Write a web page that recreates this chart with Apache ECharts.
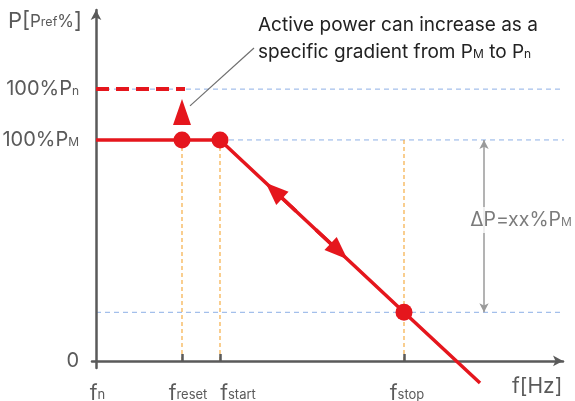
<!DOCTYPE html>
<html>
<head>
<meta charset="utf-8">
<script src="https://cdn.jsdelivr.net/npm/echarts@6/dist/echarts.min.js"></script>
<style>html,body{margin:0;padding:0;background:#fff}#c{width:575px;height:401px}</style>
</head>
<body>
<div id="c"></div>
<script>
// ---- data (schematic units) ----
const freqTicks = [0, 86, 124, 308];            // f_n, f_reset, f_start, f_stop
const freqSubs = ['n', 'reset', 'start', 'stop'];
const powerTicks = [0, 100, 123];               // 0, 100%P_M, 100%P_n
const curveF = [0, 124, 308, 384];
const curveP = [100, 100, 22, -10];
const dotF = [86, 124, 308];
const dotP = [100, 100, 22];
const pnDashF = [0, 89];
const pnDashP = [123, 123];
const upArrowF = [86];
const upArrowP = [112.7];
// direction arrows on the slope: from -> to (arrow drawn at "to", pointing along from->to)
const slopeArrowFromF = [200, 220];
const slopeArrowFromP = [67.8, 59.3];
const slopeArrowToF = [178, 243];
const slopeArrowToP = [77.1, 49.6];
const refLevels = [123, 100, 22];
const refStarts = [0, 124, 0];
const refEnd = 479;
const guideF = [86, 124, 308];
const guideTop = [100, 100, 100];
const deltaX = 388, deltaTop = 100, deltaBottom = 22;
const deltaLabelPos = [425, 63.8];
const pointerF = [94, 158];
const pointerP = [115.4, 141.6];

const FONT = 'Inter';
const RED = '#e5161d';
const AX = '#5a5a5a';

const series = [];
refLevels.forEach((lv, i) => {
  series.push({type: 'line', data: [[refStarts[i], lv], [refEnd, lv]], symbol: 'none', clip: false, silent: true,
    lineStyle: {color: '#8db0e6', width: 1, type: [5, 4]}, z: 1});
});
guideF.forEach((f, i) => {
  series.push({type: 'line', data: [[f, 0], [f, guideTop[i]]], symbol: 'none', clip: false, silent: true,
    lineStyle: {color: '#f5ad45', width: 1.2, type: [4, 3]}, z: 1});
});
series.push({type: 'line', data: pnDashF.map((f, i) => [f, pnDashP[i]]), symbol: 'none', clip: false,
  lineStyle: {color: RED, width: 4, type: [13, 7]}, z: 3});
series.push({type: 'line', data: curveF.map((f, i) => [f, curveP[i]]), symbol: 'none', clip: false,
  lineStyle: {color: RED, width: 3.5}, z: 4,
  markLine: {silent: true, symbol: ['none', 'triangle'], symbolSize: [18, 23], precision: 4,
    lineStyle: {color: RED, width: 3.5, type: 'solid'}, itemStyle: {color: RED, opacity: 1}, label: {show: false},
    data: slopeArrowToF.map((f, i) => [{coord: [slopeArrowFromF[i], slopeArrowFromP[i]]}, {coord: [f, slopeArrowToP[i]]}])}});
series.push({type: 'scatter', data: dotF.map((f, i) => [f, dotP[i]]), symbolSize: 17, clip: false,
  itemStyle: {color: RED, opacity: 1}, z: 5});
series.push({type: 'scatter', data: upArrowF.map((f, i) => [f, upArrowP[i]]), symbol: 'triangle', symbolSize: [18, 26],
  itemStyle: {color: RED, opacity: 1}, z: 5});
series.push({type: 'line', data: pointerF.map((f, i) => [f, pointerP[i]]), symbol: 'none', clip: false,
  lineStyle: {color: '#6f6f6f', width: 1.2}, z: 2});
series.push({type: 'line', data: [], markLine: {silent: true, symbol: ['arrow', 'arrow'], symbolSize: [7, 9],
  lineStyle: {color: '#9a9a9a', width: 1.5, type: 'solid'}, itemStyle: {color: '#9a9a9a'}, label: {show: false},
  data: [[{coord: [deltaX, deltaTop]}, {coord: [deltaX, deltaBottom]}]]}, z: 2});
series.push({type: 'scatter', data: [deltaLabelPos], symbolSize: 0, z: 6,
  label: {show: true, position: 'inside', backgroundColor: '#fff', padding: [2, 0, 2, 0],
    formatter: '{a|ΔP=xx%P}{s|M}',
    rich: {a: {fontFamily: FONT, fontSize: 19.5, color: '#5a5a5a', lineHeight: 22},
           s: {fontFamily: FONT, fontSize: 12, color: '#5a5a5a', lineHeight: 22, padding: [4, 0, 0, 0]}}}});

const xRich = {
  f: {fontFamily: FONT, fontSize: 21, color: AX, lineHeight: 24},
  s: {fontFamily: FONT, fontSize: 13, color: AX, lineHeight: 24, padding: [3, 0, 0, 0]}
};
const xShift = [3, 12, 36, 6];
xShift.forEach((p, i) => {
  xRich['f' + i] = Object.assign({}, xRich.f, {padding: [0, 0, 0, p]});
});

const option = {
  animation: false,
  grid: {left: 92, right: 12, top: 10, bottom: 33, containLabel: false, outerBoundsMode: 'none'},
  xAxis: {
    type: 'value', min: -4, max: 467, z: 2,
    axisLine: {show: true, onZero: true, symbol: ['none', 'arrow'], symbolSize: [8, 10], lineStyle: {color: AX, width: 2.5}},
    axisTick: {show: true, inside: true, length: 7, customValues: freqTicks.slice(1), lineStyle: {color: AX, width: 2.5}},
    splitLine: {show: false},
    axisLabel: {show: true, customValues: freqTicks, margin: 14,
      formatter: (v) => { const i = freqTicks.indexOf(v); return '{f' + i + '|f}{s|' + freqSubs[i] + '}'; },
      rich: xRich},
    name: 'f[Hz]', nameLocation: 'end', nameGap: -51,
    nameTextStyle: {fontFamily: FONT, fontSize: 21, color: AX, align: 'left', verticalAlign: 'top', padding: [15, 0, 0, 0]}
  },
  yAxis: {
    type: 'value', min: -3.2, max: 158.8, z: 2,
    axisLine: {show: true, onZero: true, symbol: ['none', 'arrow'], symbolSize: [8, 10], lineStyle: {color: AX, width: 2.5}},
    axisTick: {show: false},
    splitLine: {show: false},
    axisLabel: {show: true, customValues: powerTicks, margin: 13,
      formatter: (v) => v === 0 ? '{m|0}' : (v === 100 ? '{m|100%P}{s|M}' : '{m|100%P}{s|n}'),
      rich: {m: {fontFamily: FONT, fontSize: 20, color: AX, lineHeight: 22},
             s: {fontFamily: FONT, fontSize: 12, color: AX, lineHeight: 22, padding: [4, 0, 0, 0]}}},
    name: '{b|P[}{m|P}{s|ref}{m|%}{b|]}', nameLocation: 'end', nameGap: -11,
    nameTextStyle: {align: 'right', verticalAlign: 'middle', padding: [0, 14, 0, 0],
      rich: {b: {fontFamily: FONT, fontSize: 22, color: AX, lineHeight: 24},
             m: {fontFamily: FONT, fontSize: 17, color: AX, lineHeight: 24, padding: [1, 0, 0, 0]},
             s: {fontFamily: FONT, fontSize: 12.5, color: AX, lineHeight: 24, padding: [3, 0, 0, 0]}}}
  },
  graphic: [{
    type: 'text', left: 258, top: 16, z: 10,
    style: {
      text: '{t|Active power can increase as a}\n{t|specific gradient from P}{s|M}{t| to P}{s|n}',
      rich: {t: {fontFamily: FONT, fontSize: 19, fill: '#222', lineHeight: 27},
             s: {fontFamily: FONT, fontSize: 12, fill: '#222', lineHeight: 27, padding: [3, 0, 0, 0]}}
    }
  }],
  series: series
};
const chart = echarts.init(document.getElementById('c'), null, {renderer: 'canvas'});
chart.setOption(option);
</script>
</body>
</html>
